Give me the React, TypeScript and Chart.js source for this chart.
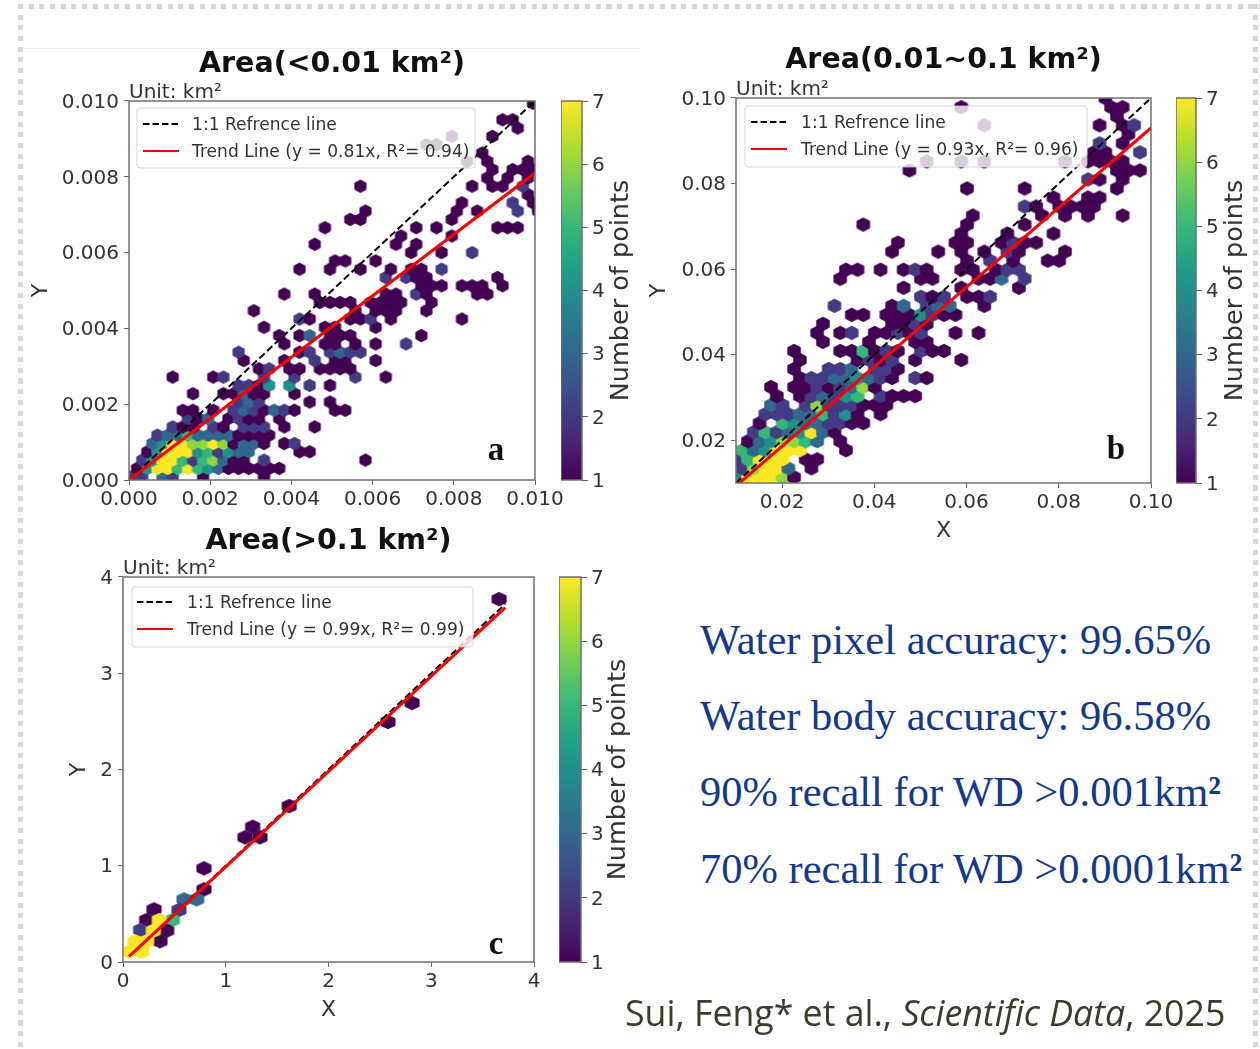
import React, { useEffect, useRef } from "react";
import { Chart, registerables } from "chart.js";

Chart.register(...registerables);

// ---------- data: each entry = [bin row, bin column, count, bin column, count, ...] ----------
const aBins: number[][] = [
  [0, 0,2, 1,2, 3,3, 4,2, 7,1, 13,1],
  [1, 0,1, 1,4, 2,7, 3,7, 4,5, 5,7, 6,5, 7,4, 8,3, 9,1, 10,1, 11,1, 12,1, 13,1, 14,1],
  [2, 1,2, 2,4, 3,7, 4,7, 5,5, 6,2, 7,5, 8,6, 9,3, 10,1, 11,1, 13,2, 23,1],
  [3, 1,1, 2,4, 3,7, 4,7, 5,7, 6,4, 7,5, 8,2, 9,4, 10,3, 11,3, 16,1, 17,1],
  [4, 2,3, 3,4, 4,7, 5,7, 6,6, 7,6, 8,7, 9,6, 10,1, 11,3, 12,3, 13,1, 15,1, 16,2],
  [5, 2,2, 3,3, 4,3, 5,5, 6,3, 7,3, 8,3, 9,3, 10,1, 11,1, 12,1, 13,1],
  [6, 4,2, 5,1, 6,1, 8,2, 9,1, 11,2, 12,2, 13,2, 15,1, 18,1],
  [7, 5,2, 6,1, 7,3, 9,1, 10,2, 11,1, 12,1, 14,1],
  [8, 5,1, 6,1, 8,1, 10,2, 11,3, 12,2, 13,1, 14,3, 15,2, 16,1, 20,1, 21,1],
  [9, 10,2, 11,3, 12,2, 17,1, 19,1],
  [10, 6,1, 9,1, 10,1, 11,3, 12,1, 13,1, 16,1],
  [11, 10,2, 11,2, 12,1, 13,4, 15,4, 17,2, 19,1],
  [12, 4,1, 8,1, 9,2, 13,2, 16,2, 22,2, 25,1],
  [13, 12,1, 13,2, 15,1, 16,1, 18,1, 19,1, 20,1, 21,1],
  [14, 11,1, 15,1, 18,2, 20,1, 21,1, 24,1],
  [15, 10,2, 16,1, 17,2, 19,2, 20,3, 21,2, 22,2],
  [16, 15,1, 19,1, 20,1, 22,1, 24,1, 27,2],
  [17, 14,1, 16,1, 17,3, 19,1, 20,1, 21,1, 28,1],
  [18, 13,1, 19,1, 20,1, 24,1],
  [19, 16,2, 17,1, 21,1, 22,1, 23,2, 25,1, 32,1],
  [20, 12,1, 22,1, 24,1, 25,1, 26,1, 29,1],
  [21, 18,1, 19,1, 20,1, 21,1, 23,1, 24,1, 25,1, 26,1, 29,1],
  [22, 15,1, 18,1, 25,1, 26,1, 28,2, 29,1, 34,1, 35,1],
  [23, 28,1, 29,1, 30,1, 32,1, 33,1, 34,1, 36,1],
  [24, 25,2, 27,2, 28,1, 29,1, 36,1],
  [25, 16,1, 19,1, 22,1, 25,1, 27,1, 28,1, 30,2],
  [26, 20,1, 21,1, 24,1],
  [27, 27,1, 30,1, 33,2],
  [28, 18,1, 26,1, 28,1],
  [29, 26,1, 31,1],
  [30, 19,1, 28,1, 30,1, 36,1, 37,1, 38,1],
  [31, 21,1, 22,1, 31,1],
  [32, 23,1, 32,1, 34,1, 38,2, 40,1],
  [33, 32,1, 37,2, 39,1],
  [34, 39,1],
  [35, 22,1, 33,1, 35,1, 36,1, 38,2],
  [36, 35,1, 37,1, 39,1],
  [37, 35,1, 37,1, 38,1, 39,1],
  [38, 33,1, 35,1, 39,1],
  [39, 34,1],
  [40, 29,1, 30,1],
  [41, 31,1, 35,1],
  [42, 38,1],
  [43, 36,1, 37,1],
  [45, 39,1],
];

const bBins: number[][] = [
  [0, 0,4, 1,7, 2,7, 3,7, 4,6, 5,1],
  [1, 0,2, 1,6, 2,7, 3,7, 4,3, 6,1],
  [2, 0,2, 1,5, 2,7, 3,7, 4,7, 6,1, 7,1],
  [3, 0,5, 1,3, 2,4, 3,7, 4,7, 5,7, 9,1],
  [4, 1,1, 2,3, 3,4, 4,6, 5,6, 6,5, 7,3, 9,1],
  [5, 1,2, 2,5, 3,2, 4,3, 5,4, 6,7, 7,3, 8,1],
  [6, 2,1, 4,5, 5,4, 6,3, 7,3, 8,2, 9,2, 10,1, 11,1],
  [7, 2,2, 3,2, 4,2, 5,3, 6,3, 7,5, 8,2, 9,4, 10,1, 12,1],
  [8, 3,3, 4,2, 6,2, 7,6, 8,2, 9,2, 10,2, 11,1, 12,1, 13,1],
  [9, 3,1, 5,1, 6,2, 7,3, 8,2, 9,4, 10,5, 12,2, 13,1, 14,1, 15,1],
  [10, 3,1, 5,1, 6,1, 7,2, 8,1, 9,2, 10,3, 11,6, 12,1],
  [11, 5,1, 6,2, 7,2, 8,3, 9,3, 10,4, 11,3, 12,2, 13,1, 15,2, 16,1],
  [12, 5,1, 8,2, 9,2, 10,3, 12,2, 13,2, 14,1],
  [13, 5,1, 10,1, 11,2, 12,1, 13,2, 15,1, 19,1],
  [14, 5,1, 9,1, 10,1, 11,5, 12,1, 13,2, 14,1, 16,2, 17,1, 18,1],
  [15, 7,1, 11,1, 15,1, 16,1],
  [16, 7,1, 9,1, 10,2, 12,1, 13,1, 14,2, 15,1, 16,2, 19,1, 21,1],
  [17, 7,1, 13,1, 14,1, 15,2, 16,1],
  [18, 10,1, 11,1, 13,1, 14,1, 15,1, 16,4, 17,2, 18,1, 19,1],
  [19, 8,2, 13,1, 14,3, 16,2, 17,3, 18,3, 21,1],
  [20, 16,2, 17,1, 18,2, 20,1, 21,1, 22,2],
  [21, 14,1, 19,1, 24,1],
  [22, 9,1, 16,1, 17,1, 21,1, 22,1, 23,3, 25,2],
  [23, 9,1, 10,1, 12,1, 14,1, 15,2, 16,1, 19,1, 20,1, 22,1, 23,2, 24,2],
  [24, 20,1, 22,2, 24,1, 27,1, 28,1],
  [25, 13,1, 17,1, 19,1, 21,1, 23,2, 24,1, 28,1],
  [26, 14,1, 19,1, 20,1, 23,1, 24,2, 25,1, 26,1],
  [27, 19,1, 23,1, 27,1],
  [28, 11,1, 20,1, 25,1],
  [29, 20,1, 26,1, 28,1, 30,1, 33,1],
  [30, 25,2, 26,1, 28,1, 29,1, 30,1, 31,1],
  [31, 27,1, 30,1, 31,1],
  [32, 20,1, 25,1, 33,1],
  [33, 30,2, 31,1, 33,1],
  [34, 15,1, 33,1, 34,1, 35,1],
  [35, 16,1, 19,1, 21,1, 28,1, 30,1, 31,1, 32,1, 33,1],
  [36, 31,1, 32,1, 35,2],
  [37, 31,2, 33,1],
  [38, 34,1],
  [39, 21,1, 31,1, 33,1, 34,2],
  [40, 33,1],
  [41, 19,1, 32,1, 33,1],
  [42, 32,1],
];

const cX = [1.618, 1.262, 1.187, 1.333, 0.788, 0.788, 0.717, 0.594, 0.545, 0.48, 0.302, 0.23, 0.172, 0.353, 0.425, 0.36, 0.295, 0.23, 0.117, 0.182, 0.061, 2.579, 2.813, 3.66];
const cY = [1.62, 1.405, 1.295, 1.295, 0.973, 0.755, 0.651, 0.651, 0.54, 0.436, 0.547, 0.436, 0.332, 0.436, 0.325, 0.215, 0.325, 0.215, 0.215, 0.107, 0.107, 2.494, 2.691, 3.77];
const cCount = [1, 1, 1, 1, 1, 1, 3, 3, 2, 5, 1, 1, 2, 7, 1, 1, 7, 7, 7, 7, 7, 1, 1, 1];

const aTicks = [0, 0.002, 0.004, 0.006, 0.008, 0.01];
const bTicks = [0.02, 0.04, 0.06, 0.08, 0.1];
const cTicks = [0, 1, 2, 3, 4];
const colorbarTicks = [1, 2, 3, 4, 5, 6, 7];

const titles = ["Area(<0.01 km²)", "Area(0.01~0.1 km²)", "Area(>0.1 km²)"];
const trendLabels = ["Trend Line (y = 0.81x, R²= 0.94)", "Trend Line (y = 0.93x, R²= 0.96)", "Trend Line (y = 0.99x, R²= 0.99)"];
const refLabel = "1:1 Refrence line";
const slopes = [0.81, 0.93, 0.99];
const notes = ["Water pixel accuracy: 99.65%", "Water body accuracy: 96.58%", "90% recall for WD >0.001km", "70% recall for WD >0.0001km"];

// ---------- bins -> data units ----------
type P = { x: number; y: number; n: number };
function fromBins(bins: number[][], evenX: number, oddX: number, dx: number, y0: number, dy: number): P[] {
  const out: P[] = [];
  for (const b of bins) {
    const r = b[0];
    for (let i = 1; i < b.length; i += 2) {
      out.push({ x: (r % 2 ? oddX : evenX) + b[i] * dx, y: y0 + r * dy, n: b[i + 1] });
    }
  }
  return out;
}
const aPoints = fromBins(aBins, 0.000075, 0.0002, 0.00025, 0.000087, 0.000219);
const bPoints = fromBins(bBins, 0.0101, 0.01135, 0.0025, 0.01133, 0.00211);
const cPoints: P[] = cX.map((x, i) => ({ x, y: cY[i], n: cCount[i] }));

// ---------- styling ----------
const VIRIDIS = ["#440154", "#453a84", "#31688e", "#21918c", "#35b779", "#90d743", "#fde725"];
const GRADIENT = ["#440154", "#482878", "#3e4989", "#31688e", "#26828e", "#1f9e89", "#35b779", "#6ece58", "#b5de2b", "#fde725"];
const FONT = '"DejaVu Sans"';
const TXT = "#333333";
const FRAME = "#707070";

function hexSprite(w: number, h: number, color: string) {
  const size = Math.ceil(Math.max(w, h)) + 6;
  const c = document.createElement("canvas");
  c.width = size;
  c.height = size;
  const g = c.getContext("2d")!;
  const m = size / 2;
  g.beginPath();
  g.moveTo(m, m - h / 2);
  g.lineTo(m + w / 2, m - h / 4);
  g.lineTo(m + w / 2, m + h / 4);
  g.lineTo(m, m + h / 2);
  g.lineTo(m - w / 2, m + h / 4);
  g.lineTo(m - w / 2, m - h / 4);
  g.closePath();
  g.fillStyle = color;
  g.strokeStyle = color;
  g.lineWidth = 2;
  g.lineJoin = "round";
  g.fill();
  g.stroke();
  return c;
}

type PanelCfg = {
  title: string; trend: string; slope: number; points: P[];
  min: number; max: number; ticks: number[]; digits: number;
  lineFrom: number; lineTo: number;
  l: number; r: number; t: number; b: number;
  hexW: number; hexH: number;
  showX: boolean; letter: string; letterX: number; letterY: number;
  legend: { l: number; r: number; t: number; b: number; hl: number; hr: number; tx: number; y1: number; y2: number };
  bar: { l: number; r: number; labelX: number };
  unitY: number; yTitlePad: number; titleShift: number;
};

const panels: PanelCfg[] = [
  {
    title: titles[0], trend: trendLabels[0], slope: slopes[0], points: aPoints,
    min: 0, max: 0.01, ticks: aTicks, digits: 3, lineFrom: 0, lineTo: 0.01,
    l: 129, r: 535, t: 101, b: 480, hexW: 10.15, hexH: 11, showX: false,
    letter: "a", letterX: 496, letterY: 451,
    legend: { l: 137, r: 475, t: 108, b: 168, hl: 143, hr: 179, tx: 192, y1: 124, y2: 151 },
    bar: { l: 561, r: 582, labelX: 621 }, unitY: 98, yTitlePad: 9.5, titleShift: -1,
  },
  {
    title: titles[1], trend: trendLabels[1], slope: slopes[1], points: bPoints,
    min: 0.01, max: 0.1, ticks: bTicks, digits: 2, lineFrom: 0.01, lineTo: 0.1,
    l: 736, r: 1151, t: 98, b: 483, hexW: 11.5, hexH: 12, showX: true,
    letter: "b", letterX: 1116, letterY: 450,
    legend: { l: 745, r: 1087, t: 106, b: 167, hl: 751, hr: 787, tx: 801, y1: 122, y2: 149 },
    bar: { l: 1176, r: 1196, labelX: 1235.5 }, unitY: 95, yTitlePad: 20, titleShift: -2,
  },
  {
    title: titles[2], trend: trendLabels[2], slope: slopes[2], points: cPoints,
    min: 0, max: 4, ticks: cTicks, digits: 0, lineFrom: 0.06, lineTo: 3.72,
    l: 123, r: 534, t: 577, b: 962, hexW: 13.1, hexH: 12.4, showX: true,
    letter: "c", letterX: 496, letterY: 945,
    legend: { l: 132, r: 473, t: 587, b: 647, hl: 137, hr: 173, tx: 187, y1: 602, y2: 629 },
    bar: { l: 559, r: 581, labelX: 618 }, unitY: 574, yTitlePad: 53, titleShift: 0,
  },
];

const LEFT = 110;
const RIGHT = 110;
const TOP = 60;
const BOTTOM = 70;

function framePlugin(): any {
  return {
    id: "frame",
    afterDatasetsDraw(chart: any) {
      const { ctx, chartArea: a } = chart;
      ctx.save();
      ctx.strokeStyle = FRAME;
      ctx.lineWidth = 1.5;
      ctx.strokeRect(a.left, a.top, a.right - a.left, a.bottom - a.top);
      ctx.restore();
    },
  };
}

function overlayPlugin(p: PanelCfg): any {
  const ox = p.l - LEFT;
  const oy = p.t - TOP;
  return {
    id: "overlay",
    afterDatasetsDraw(chart: any) {
      const ctx = chart.ctx;
      const L = p.legend;
      ctx.save();
      ctx.translate(-ox, -oy);
      // legend box
      ctx.beginPath();
      ctx.roundRect(L.l, L.t, L.r - L.l, L.b - L.t, 3);
      ctx.fillStyle = "rgba(255,255,255,0.8)";
      ctx.fill();
      ctx.strokeStyle = "rgba(204,204,204,0.8)";
      ctx.lineWidth = 1;
      ctx.stroke();
      ctx.lineWidth = 1.8;
      ctx.strokeStyle = "#000000";
      ctx.setLineDash([6.5, 3]);
      ctx.beginPath();
      ctx.moveTo(L.hl, L.y1);
      ctx.lineTo(L.hr, L.y1);
      ctx.stroke();
      ctx.setLineDash([]);
      ctx.strokeStyle = "#ff0000";
      ctx.beginPath();
      ctx.moveTo(L.hl, L.y2);
      ctx.lineTo(L.hr, L.y2);
      ctx.stroke();
      ctx.fillStyle = TXT;
      ctx.font = `17.1px ${FONT}`;
      ctx.textBaseline = "middle";
      ctx.textAlign = "left";
      ctx.fillText(refLabel, L.tx, L.y1 + 2);
      ctx.fillText(p.trend, L.tx, L.y2 + 2);
      // unit note
      ctx.textBaseline = "alphabetic";
      ctx.font = `20px ${FONT}`;
      ctx.fillText("Unit: km²", p.l, p.unitY);
      // panel letter
      ctx.fillStyle = "#111111";
      ctx.font = 'bold 33px "Liberation Serif"';
      ctx.textAlign = "center";
      ctx.textBaseline = "middle";
      ctx.fillText(p.letter, p.letterX, p.letterY);
      ctx.restore();
    },
  };
}

function axisOptions(p: PanelCfg, axisSize: number, label: string | null, isX: boolean): any {
  return {
    type: "linear",
    min: p.min,
    max: p.max,
    position: isX ? "bottom" : "left",
    afterFit(s: any) {
      if (isX) s.height = axisSize;
      else s.width = axisSize;
    },
    afterBuildTicks(s: any) {
      s.ticks = p.ticks.map((value) => ({ value }));
    },
    border: { display: false },
    grid: { display: true, drawOnChartArea: false, drawTicks: true, tickLength: 5, tickColor: "#666666", tickWidth: 1 },
    ticks: {
      autoSkip: false,
      maxRotation: 0,
      minRotation: 0,
      padding: isX ? 3 : 5,
      labelOffset: isX ? 0 : 1.5,
      color: TXT,
      font: { family: "DejaVu Sans", size: 20 },
      callback: (v: number) => Number(v).toFixed(p.digits),
    },
    title: {
      display: !!label,
      text: label || "",
      color: TXT,
      font: { family: "DejaVu Sans", size: 22 },
      padding: isX ? { top: 0, bottom: 9 } : { top: p.yTitlePad, bottom: 0 },
    },
  };
}

function makeMain(canvas: HTMLCanvasElement, p: PanelCfg) {
  const sprites = VIRIDIS.map((c) => hexSprite(p.hexW, p.hexH, c));
  canvas.width = p.r - p.l + LEFT + RIGHT;
  canvas.height = p.b - p.t + TOP + BOTTOM;
  return new Chart(canvas, {
    type: "scatter",
    data: {
      datasets: [
        {
          label: "hexbin",
          data: p.points as any,
          order: 3,
          clip: 0,
          pointRadius: 8,
          pointStyle: (ctx: any) => sprites[ctx.raw.n - 1],
          showLine: false,
        } as any,
        {
          label: refLabel,
          data: [{ x: p.lineFrom, y: p.lineFrom }, { x: p.lineTo, y: p.lineTo }],
          order: 2,
          clip: 0,
          showLine: true,
          pointRadius: 0,
          borderColor: "#000000",
          borderWidth: 2,
          borderDash: [7, 3.5],
        } as any,
        {
          label: p.trend,
          data: [{ x: p.lineFrom, y: p.lineFrom * p.slope }, { x: p.lineTo, y: p.lineTo * p.slope }],
          order: 1,
          clip: 0,
          showLine: true,
          pointRadius: 0,
          borderColor: "#ff0000",
          borderWidth: 3,
        } as any,
      ],
    },
    options: {
      animation: false,
      responsive: false,
      events: [],
      layout: { padding: 0 },
      plugins: {
        legend: { display: false },
        tooltip: { enabled: false },
        title: {
          display: true,
          text: p.title,
          color: "#111111",
          font: { family: "DejaVu Sans", size: 28.5, weight: "bold", lineHeight: 1.2 },
          padding: { top: 7.1 + p.titleShift, bottom: 18.7 - p.titleShift },
        },
      },
      scales: {
        x: axisOptions(p, BOTTOM, p.showX ? "X" : null, true),
        y: axisOptions(p, LEFT, "Y", false),
        spacer: {
          type: "linear",
          position: "right",
          display: true,
          afterFit(s: any) {
            s.width = RIGHT;
          },
          border: { display: false },
          grid: { display: false },
          ticks: { display: false },
        },
      },
    },
    plugins: [framePlugin(), overlayPlugin(p)],
  } as any);
}

function makeBar(canvas: HTMLCanvasElement, p: PanelCfg) {
  const barW = p.bar.r - p.bar.l;
  const W = 90;
  canvas.width = W;
  canvas.height = p.b - p.t + 40;
  return new Chart(canvas, {
    type: "bar",
    data: {
      labels: ["Number of points"],
      datasets: [
        {
          data: [[colorbarTicks[0], colorbarTicks[colorbarTicks.length - 1]]] as any,
          barPercentage: 1,
          categoryPercentage: 1,
          borderWidth: 0,
          borderSkipped: false,
          backgroundColor: (ctx: any) => {
            const a = ctx.chart.chartArea;
            if (!a) return VIRIDIS[0];
            const g = ctx.chart.ctx.createLinearGradient(0, a.bottom, 0, a.top);
            GRADIENT.forEach((c, i) => g.addColorStop(i / (GRADIENT.length - 1), c));
            return g;
          },
        } as any,
      ],
    },
    options: {
      animation: false,
      responsive: false,
      events: [],
      layout: { padding: { left: 0, right: 0, top: 20, bottom: 20 } },
      plugins: { legend: { display: false }, tooltip: { enabled: false } },
      scales: {
        x: { display: false, type: "category" },
        y: {
          type: "linear",
          position: "right",
          min: 1,
          max: 7,
          afterFit(s: any) {
            s.width = W - barW;
          },
          afterBuildTicks(s: any) {
            s.ticks = colorbarTicks.map((value) => ({ value }));
          },
          border: { display: false },
          grid: { display: true, drawOnChartArea: false, drawTicks: true, tickLength: 6, tickColor: "#666666", tickWidth: 1 },
          ticks: { padding: 4, labelOffset: 1.5, color: TXT, font: { family: "DejaVu Sans", size: 20 } },
        },
      },
    },
    plugins: [
      framePlugin(),
      {
        id: "cbLabel",
        afterDraw(chart: any) {
          const { ctx, chartArea: a } = chart;
          ctx.save();
          ctx.translate(p.bar.labelX - p.bar.l, (a.top + a.bottom) / 2);
          ctx.rotate(-Math.PI / 2);
          ctx.fillStyle = TXT;
          ctx.font = `25.5px ${FONT}`;
          ctx.textAlign = "center";
          ctx.textBaseline = "middle";
          ctx.fillText("Number of points", 0, 0);
          ctx.restore();
        },
      },
    ],
  } as any);
}

function Panel({ p }: { p: PanelCfg }) {
  const main = useRef<HTMLCanvasElement>(null);
  const bar = useRef<HTMLCanvasElement>(null);
  useEffect(() => {
    const c1 = makeMain(main.current!, p);
    const c2 = makeBar(bar.current!, p);
    return () => {
      c1.destroy();
      c2.destroy();
    };
  }, [p]);
  return (
    <>
      <canvas
        ref={main}
        style={{ position: "absolute", left: p.l - LEFT, top: p.t - TOP, display: "block", filter: "blur(0.5px)" }}
      />
      <canvas
        ref={bar}
        style={{ position: "absolute", left: p.bar.l, top: p.t - 20, display: "block", filter: "blur(0.5px)" }}
      />
    </>
  );
}

const dots = (dir: "x" | "y"): React.CSSProperties => ({
  position: "absolute",
  backgroundImage:
    dir === "x"
      ? "repeating-linear-gradient(to right, #d6d6d6 0 5px, transparent 5px 10.7px)"
      : "repeating-linear-gradient(to bottom, #d6d6d6 0 5px, transparent 5px 10.7px)",
});

const noteTops = [640, 716, 792, 869];

export default function App() {
  return (
    <div style={{ position: "absolute", left: 0, top: 0, width: 1260, height: 1049, overflow: "hidden", background: "#ffffff" }}>
      <div style={{ ...dots("x"), left: 18, top: 4, width: 1242, height: 5 }} />
      <div style={{ ...dots("y"), left: 18, top: 4, width: 5, height: 1045 }} />
      <div style={{ ...dots("y"), left: 1253, top: 4, width: 5, height: 1045 }} />
      <div style={{ position: "absolute", left: 23, top: 48, width: 617, height: 1, background: "#efefef" }} />
      {panels.map((p, i) => (
        <Panel key={i} p={p} />
      ))}
      {notes.map((t, i) => (
        <div
          key={i}
          style={{
            position: "absolute",
            left: 700,
            top: noteTops[i] - 21,
            font: '42.5px/42px "Liberation Serif"',
            color: "#12398f",
            whiteSpace: "nowrap",
          }}
        >
          {t}
          {i >= 2 ? <b>²</b> : null}
        </div>
      ))}
      <div
        style={{
          position: "absolute",
          left: 625,
          top: 993,
          font: '35.7px/38px "Open Sans"',
          color: "#3a3d2c",
          whiteSpace: "nowrap",
        }}
      >
        Sui, Feng* et al., <i>Scientific Data</i>, 2025
      </div>
    </div>
  );
}
